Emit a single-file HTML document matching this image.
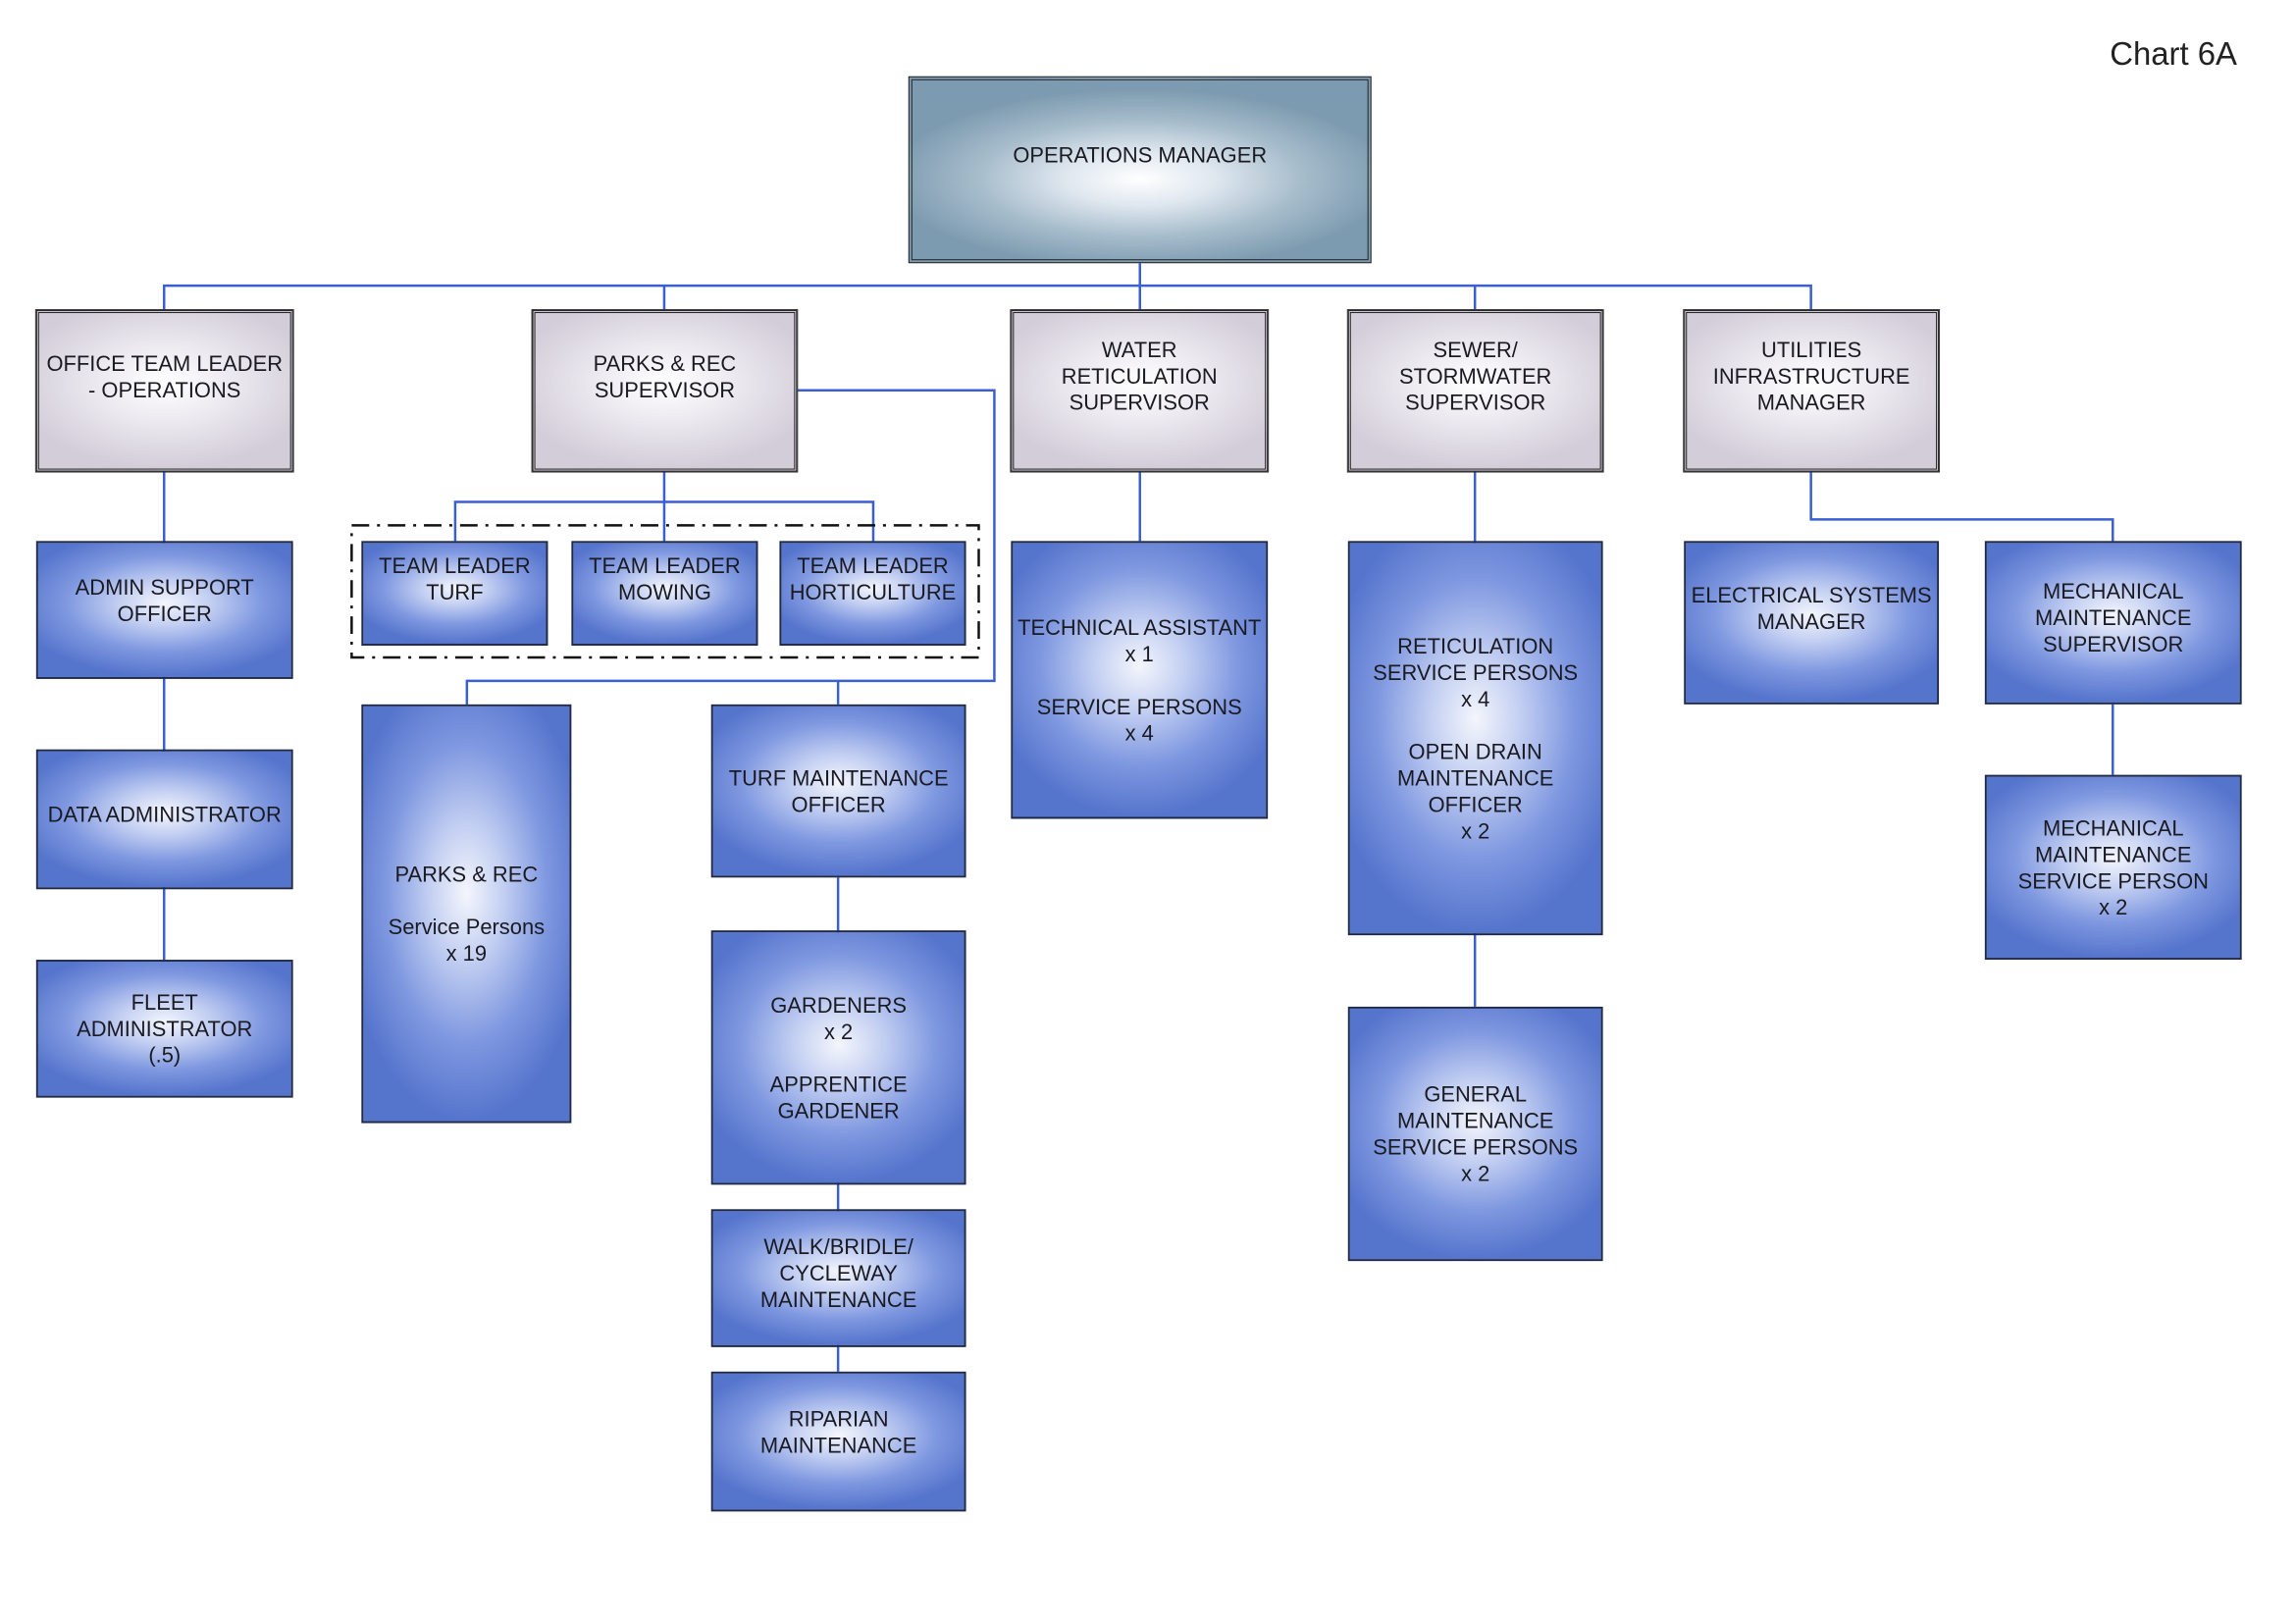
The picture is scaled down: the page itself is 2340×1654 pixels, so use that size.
<!DOCTYPE html>
<html><head><meta charset="utf-8"><style>
body{margin:0;width:2340px;height:1654px;background:#fff;position:relative;overflow:hidden;font-family:"Liberation Sans",Arial,sans-serif}
#w{position:absolute;left:0;top:0;width:2340px;height:1654px;transform:scale(0.9955,0.997);transform-origin:0 0}
.b{position:absolute;box-sizing:border-box;display:flex;align-items:center;justify-content:center;text-align:center;font-size:22px;line-height:27px;color:#1a1a22}
.blue{border:2px solid #1f2a4a;background:radial-gradient(ellipse 60% 55% at 50% 45%,#f4f6fc 0%,#c3cff2 30%,#7f98e0 65%,#5574cc 100%)}
.gray{border:3px double #222;outline:1px solid #333;background:radial-gradient(ellipse 60% 55% at 50% 45%,#ffffff 0%,#ece9f0 45%,#d2cdd8 100%)}
.ops{border:4px double #222;background:radial-gradient(ellipse 55% 50% at 50% 55%,#ffffff 0%,#dfe7ef 30%,#a6bccb 65%,#7d9bb0 100%)}
svg{position:absolute;left:0;top:0}
</style></head><body><div id="w">
<svg width="2340" height="1654">
<g stroke="#3a5fd0" stroke-width="2.5" fill="none">
<line x1="1167" y1="269" x2="1167" y2="317"/>
<polyline points="168,317 168,292 1854,292 1854,317"/>
<line x1="680" y1="292" x2="680" y2="317"/>
<line x1="1167" y1="292" x2="1167" y2="317"/>
<line x1="1510" y1="292" x2="1510" y2="317"/>
<line x1="168" y1="482" x2="168" y2="981"/>
<line x1="680" y1="482" x2="680" y2="553"/>
<polyline points="466,553 466,513 894,513 894,553"/>
<polyline points="816,399 1018,399 1018,696 478,696 478,720"/>
<line x1="858" y1="696" x2="858" y2="720"/>
<line x1="858" y1="897" x2="858" y2="1402"/>
<line x1="1167" y1="482" x2="1167" y2="553"/>
<line x1="1510" y1="482" x2="1510" y2="1029"/>
<polyline points="1854,482 1854,531 2163,531 2163,553"/>
<line x1="2163" y1="720" x2="2163" y2="792"/>
</g>
<rect x="360" y="537" width="642" height="135" fill="none" stroke="#111" stroke-width="2.5" stroke-dasharray="18,8,3,8"/>
</svg>
<div style="position:absolute;left:2160px;top:36px;font-size:33px;color:#222">Chart 6A</div>
<div class="b ops" style="left:930px;top:78px;width:474px;height:191px;padding-bottom:30px">OPERATIONS MANAGER</div>
<div class="b gray" style="left:37px;top:317px;width:263px;height:165px;padding-bottom:30px">OFFICE TEAM LEADER<br>- OPERATIONS</div>
<div class="b gray" style="left:545px;top:317px;width:271px;height:165px;padding-bottom:30px">PARKS &amp; REC<br>SUPERVISOR</div>
<div class="b gray" style="left:1035px;top:317px;width:263px;height:165px;padding-bottom:30px">WATER<br>RETICULATION<br>SUPERVISOR</div>
<div class="b gray" style="left:1380px;top:317px;width:261px;height:165px;padding-bottom:30px">SEWER/<br>STORMWATER<br>SUPERVISOR</div>
<div class="b gray" style="left:1724px;top:317px;width:261px;height:165px;padding-bottom:30px">UTILITIES<br>INFRASTRUCTURE<br>MANAGER</div>
<div class="b blue" style="left:37px;top:553px;width:263px;height:141px;padding-bottom:20px">ADMIN SUPPORT<br>OFFICER</div>
<div class="b blue" style="left:37px;top:766px;width:263px;height:143px;padding-bottom:10px">DATA ADMINISTRATOR</div>
<div class="b blue" style="left:37px;top:981px;width:263px;height:141px">FLEET<br>ADMINISTRATOR<br>(.5)</div>
<div class="b blue" style="left:370px;top:553px;width:191px;height:107px;padding-bottom:30px">TEAM LEADER<br>TURF</div>
<div class="b blue" style="left:585px;top:553px;width:191px;height:107px;padding-bottom:30px">TEAM LEADER<br>MOWING</div>
<div class="b blue" style="left:798px;top:553px;width:191px;height:107px;padding-bottom:30px">TEAM LEADER<br>HORTICULTURE</div>
<div class="b blue" style="left:370px;top:720px;width:215px;height:428px">PARKS &amp; REC<br><br>Service Persons<br>x 19</div>
<div class="b blue" style="left:728px;top:720px;width:261px;height:177px">TURF MAINTENANCE<br>OFFICER</div>
<div class="b blue" style="left:728px;top:951px;width:261px;height:260px">GARDENERS<br>x 2<br><br>APPRENTICE<br>GARDENER</div>
<div class="b blue" style="left:728px;top:1236px;width:261px;height:141px;padding-bottom:10px">WALK/BRIDLE/<br>CYCLEWAY<br>MAINTENANCE</div>
<div class="b blue" style="left:728px;top:1402px;width:261px;height:143px;padding-bottom:20px">RIPARIAN<br>MAINTENANCE</div>
<div class="b blue" style="left:1035px;top:553px;width:263px;height:284px">TECHNICAL ASSISTANT<br>x 1<br><br>SERVICE PERSONS<br>x 4</div>
<div class="b blue" style="left:1380px;top:553px;width:261px;height:403px">RETICULATION<br>SERVICE PERSONS<br>x 4<br><br>OPEN DRAIN<br>MAINTENANCE<br>OFFICER<br>x 2</div>
<div class="b blue" style="left:1380px;top:1029px;width:261px;height:260px">GENERAL<br>MAINTENANCE<br>SERVICE PERSONS<br>x 2</div>
<div class="b blue" style="left:1724px;top:553px;width:261px;height:167px;padding-bottom:30px">ELECTRICAL SYSTEMS<br>MANAGER</div>
<div class="b blue" style="left:2032px;top:553px;width:263px;height:167px;padding-bottom:10px">MECHANICAL<br>MAINTENANCE<br>SUPERVISOR</div>
<div class="b blue" style="left:2032px;top:792px;width:263px;height:189px">MECHANICAL<br>MAINTENANCE<br>SERVICE PERSON<br>x 2</div>
</div></body></html>
